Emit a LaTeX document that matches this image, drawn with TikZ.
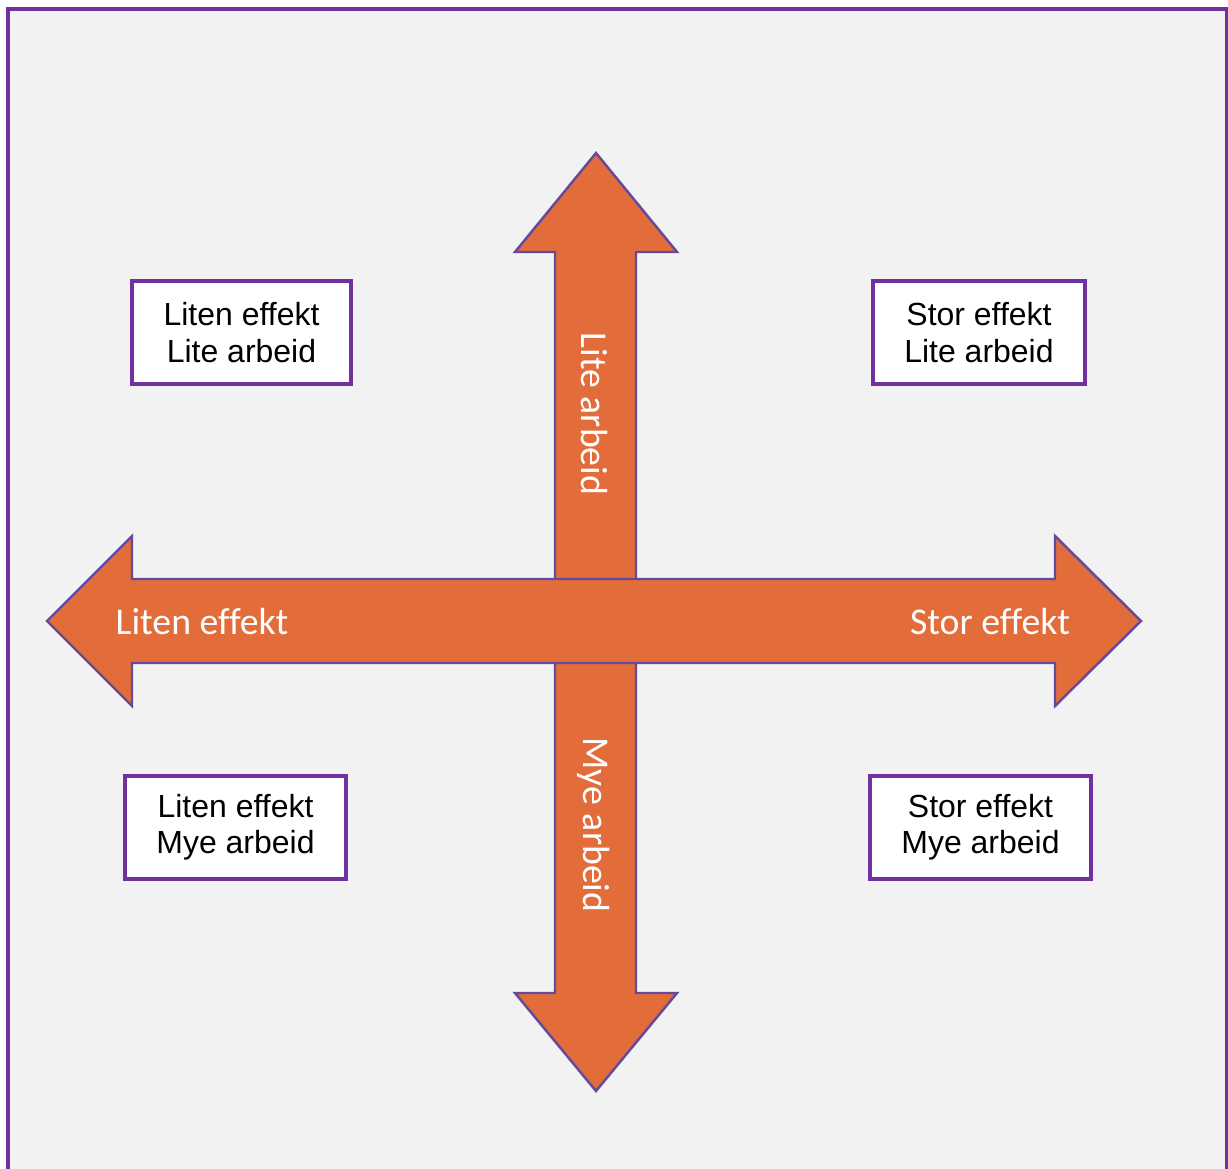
\documentclass[tikz,border=0pt]{standalone}
\usepackage{fontspec}
\setmainfont{Liberation Sans}
\newfontfamily\arrowfont[Ligatures=NoCommon]{Carlito}
\usetikzlibrary{positioning}
\definecolor{bgGrey}{HTML}{F2F2F2}
\definecolor{frameViolet}{HTML}{7030A0}
\definecolor{arrowEdge}{HTML}{654A9C}
\definecolor{arrowFill}{HTML}{E36C3B}

\begin{document}
\begin{tikzpicture}[x=0.02cm,y=-0.02cm,
    bigarrow/.style={fill=arrowFill,draw=arrowEdge,line width=1.4pt,line join=miter},
    quadbox/.style={draw=frameViolet,fill=white,line width=2.2pt,align=center,
      font=\fontsize{18.2}{20.6}\selectfont,minimum width=4.25cm,minimum height=2.05cm,inner sep=0pt},
    axislabel/.style={text=white,font=\arrowfont\fontsize{21.5}{24}\selectfont,inner sep=0pt}]
  \useasboundingbox (0,0) rectangle (1228,1169);
  \draw[fill=bgGrey,draw=frameViolet,line width=2.4pt] (8,9) rectangle (1227,1185);
  % vertical arrow first, horizontal one on top
  \draw[bigarrow] (596,153) -- (677,252) -- (636,252) -- (636,993) -- (677,993) -- (596,1091)
    -- (515,993) -- (555,993) -- (555,252) -- (515,252) -- cycle;
  \draw[bigarrow] (47,621) -- (132,536) -- (132,579) -- (1055,579) -- (1055,536) -- (1141,621)
    -- (1055,706) -- (1055,663) -- (132,663) -- (132,706) -- cycle;
  % axis labels
  \node[axislabel] (left) at (202,622) {Liten effekt};
  \node[axislabel] (right) at (990,622) {Stor effekt};
  \node[axislabel,rotate=-90] (up) at (594,414) {Lite arbeid};
  \node[axislabel,rotate=-90] (down) at (594,825) {Mye arbeid};
  % quadrants
  \node[quadbox,minimum width=4.38cm] (tl) at (241.5,332.5) {Liten effekt\\Lite arbeid};
  \node[quadbox,minimum width=4.24cm] (tr) at (979,332.5) {Stor effekt\\Lite arbeid};
  \node[quadbox,minimum width=4.42cm] (bl) at (235.5,827.5) {Liten effekt\\Mye arbeid};
  \node[quadbox,minimum width=4.42cm] (br) at (980.5,827.5) {Stor effekt\\Mye arbeid};
\end{tikzpicture}
\end{document}
